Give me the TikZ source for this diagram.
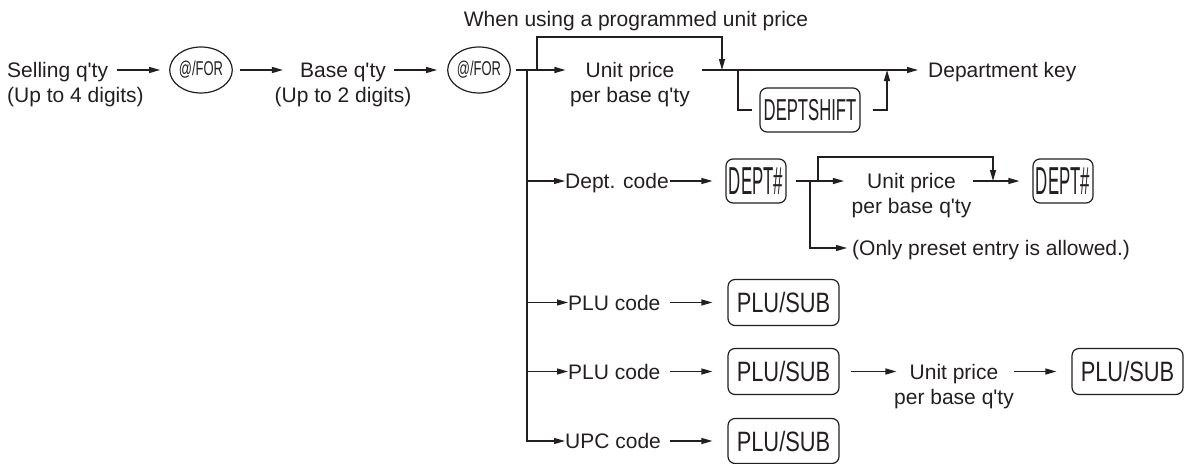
\documentclass[tikz,border=0pt]{standalone}
\usepackage{fontspec}
\setmainfont{Liberation Sans}
\usepackage{graphicx}
\usetikzlibrary{positioning, arrows.meta, shapes.geometric}
\definecolor{kInk}{HTML}{231F20}
\newcommand{\keytxt}[3]{\scalebox{#2}[1]{\fontsize{#1}{#1}\selectfont #3}}
\newcommand{\qty}{q\textquotesingle ty}
\tikzset{
  kTxt/.style={inner sep=0pt, text=kInk, font=\fontsize{21}{25}\selectfont, text height=15pt, text depth=0pt},
  kSub/.style={kTxt, below=10pt of #1},
  kKey/.style={draw=kInk, line width=1.2pt, rounded corners=7pt, inner sep=0pt, text=kInk, minimum height=44pt},
  kOval/.style={draw=kInk, line width=1.2pt, ellipse, inner sep=0pt, minimum width=54pt, minimum height=46pt, text=kInk},
  kLine/.style={draw=kInk, line width=1.2pt},
  kArr/.style={kLine, -{Triangle[length=11pt,width=6pt]}}
}

\begin{document}
\begin{tikzpicture}[x=1pt, y=-1pt]
  \useasboundingbox (0,0) rectangle (1190,463);

  % first row
  \node[kTxt] (note) at (636,19) {When using a programmed unit price};
  \node[kTxt, anchor=west] (sell) at (7,70) {Selling \qty};
  \node[kTxt, below=10pt of sell.south west, anchor=north west] (sellSub) {(Up to 4 digits)};
  \node[kOval] (atforA) at (201,70) {\keytxt{20}{0.65}{@/FOR}};
  \node[kTxt] (base) at (343,70) {Base \qty};
  \node[kSub=base] (baseSub) {(Up to 2 digits)};
  \node[kOval] (atforB) at (479,70) {\keytxt{20}{0.65}{@/FOR}};
  \node[kTxt] (unitA) at (630,70) {Unit price};
  \node[kSub=unitA] (unitASub) {per base \qty};
  \node[kKey, minimum width=100pt] (dshift) at (810,110) {\keytxt{30.3}{0.55}{DEPTSHIFT}};
  \node[kTxt, anchor=west] (dkey) at (928,70) {Department key};

  % dept. code row
  \node[kTxt, anchor=west] (deptcode) at (565,181) {Dept. code};
  \node[kKey, minimum width=60pt] (deptA) at (756,181) {\keytxt{39}{0.43}{DEPT\#}};
  \node[kTxt] (unitB) at (911.5,181) {Unit price};
  \node[kSub=unitB] (unitBSub) {per base \qty};
  \node[kKey, minimum width=60pt] (deptB) at (1063,181) {\keytxt{39}{0.43}{DEPT\#}};
  \node[kTxt, anchor=west] (only) at (852,248) {(Only preset entry is allowed.)};

  % plu / upc rows
  \node[kTxt, anchor=west] (pluA) at (568,302.5) {PLU code};
  \node[kKey, minimum width=111pt, minimum height=46pt] (pluboxA) at (783.5,302.5) {\keytxt{28}{0.78}{PLU/SUB}};
  \node[kTxt, anchor=west] (pluB) at (568,371.5) {PLU code};
  \node[kKey, minimum width=111pt, minimum height=46pt] (pluboxB) at (783.5,371.5) {\keytxt{28}{0.78}{PLU/SUB}};
  \node[kTxt] (unitC) at (954,371.5) {Unit price};
  \node[kSub=unitC] (unitCSub) {per base \qty};
  \node[kKey, minimum width=111pt, minimum height=46pt] (pluboxC) at (1127.5,371.5) {\keytxt{28}{0.78}{PLU/SUB}};
  \node[kTxt, anchor=west] (upc) at (565,441) {UPC code};
  \node[kKey, minimum width=111pt, minimum height=45pt] (pluboxD) at (783.5,441) {\keytxt{28}{0.78}{PLU/SUB}};

  % branch points
  \coordinate (jDown) at (527,70);
  \coordinate (jUp) at (537,70);
  \coordinate (mergeA) at (722,70);
  \coordinate (jShift) at (738,70);
  \coordinate (backA) at (887,70);
  \coordinate (jDownB) at (810,181);
  \coordinate (jUpB) at (818,181);
  \coordinate (mergeB) at (993,181);

  % connectors
  \draw[kArr] ([xshift=9pt]sell.east) -- ([xshift=-9pt]atforA.west);
  \draw[kArr] ([xshift=7pt]atforA.east) -- ([xshift=-17pt]base.west);
  \draw[kArr] ([xshift=8pt]base.east) -- ([xshift=-10pt]atforB.west);
  \draw[kArr] ([xshift=5pt]atforB.east) -- ([xshift=-20pt]unitA.west);
  \draw[kArr] (jUp) -- ++(0,-33) -| (mergeA);
  \draw[kArr] ([xshift=27pt]unitA.east) -- ([xshift=-10pt]dkey.west);
  \draw[kLine] (jShift) |- ([xshift=-7pt]dshift.west);
  \draw[kArr] ([xshift=12pt]dshift.east) -| (backA);
  \foreach \n in {deptcode, pluA, pluB, upc}
    \draw[kArr] (jDown) |- (\n.west);

  \draw[kArr] ([xshift=1pt]deptcode.east) -- ([xshift=-13pt]deptA.west);
  \draw[kArr] ([xshift=9pt]deptA.east) -- ([xshift=-23pt]unitB.west);
  \draw[kArr] (jUpB) -- ++(0,-24) -| (mergeB);
  \draw[kArr] (jDownB) |- ([xshift=-5pt]only.west);
  \draw[kArr] ([xshift=17pt]unitB.east) -- ([xshift=-13pt]deptB.west);

  \draw[kArr] ([xshift=9pt]pluA.east) -- ([xshift=-15pt]pluboxA.west);
  \draw[kArr] ([xshift=9pt]pluB.east) -- ([xshift=-15pt]pluboxB.west);
  \draw[kArr] ([xshift=11pt]pluboxB.east) -- ([xshift=-13pt]unitC.west);
  \draw[kArr] ([xshift=15pt]unitC.east) -- ([xshift=-15pt]pluboxC.west);
  \draw[kArr] ([xshift=9pt]upc.east) -- ([xshift=-15pt]pluboxD.west);
\end{tikzpicture}
\end{document}
